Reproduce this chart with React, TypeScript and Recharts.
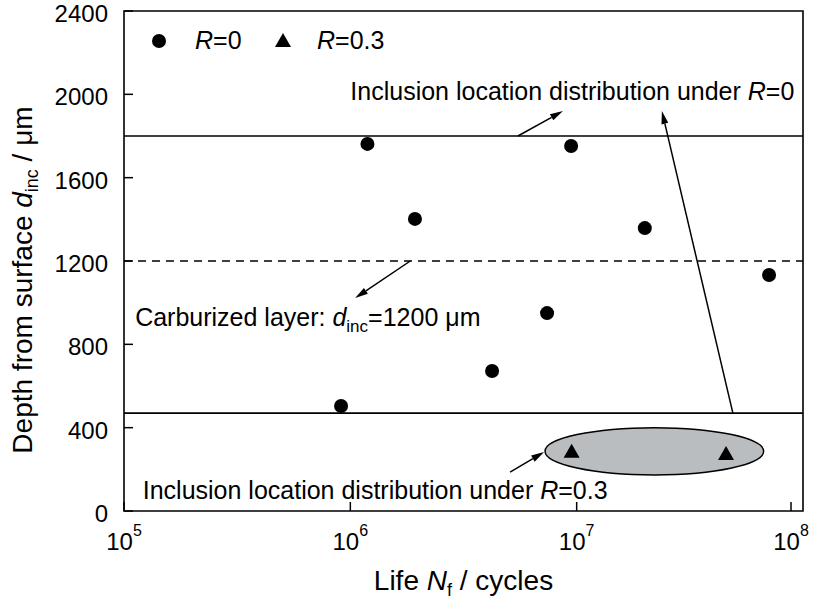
import React from "react";
import {
  ScatterChart,
  Scatter,
  XAxis,
  YAxis,
  ReferenceLine,
  ReferenceArea,
  ReferenceDot,
  Legend,
} from "recharts";

const FONT = "'Liberation Sans', Arial, sans-serif";

// life (cycles) and inclusion depth (um)
const lifeR0 = [9.1e5, 1.19e6, 1.93e6, 4.23e6, 7.4e6, 9.45e6, 2.0e7, 7.08e7];
const depthR0 = [504, 1762, 1402, 672, 950, 1752, 1358, 1133];
const lifeR03 = [9.5e6, 4.57e7];
const depthR03 = [284, 274];

const xTicks = [1e5, 1e6, 1e7, 1e8];
const xTickExp = ["5", "6", "7", "8"];
const yTicks = [0, 400, 800, 1200, 1600, 2000, 2400];

const upperLimitR0 = 1800;
const lowerLimitR0 = 470;
const carburizedDepth = 1200;

// grey ellipse around the R=0.3 points
const ellipseLife = [7.25e6, 6.7e7];
const ellipseDepth = [173, 400];

// annotation arrows: [fromLife, fromDepth, toLife, toDepth]
const arrows = [
  [5.5e6, 1800, 8.7e6, 1920],
  [4.9e7, 470, 2.38e7, 1920],
  [1.84e6, 1200, 1.05e6, 1022],
  [5.08e6, 187, 7.18e6, 283],
];

// annotation text anchors (left/baseline)
const noteR0 = [1.0e6, 1973];
const noteCarb = [1.12e5, 888];
const noteR03 = [1.21e5, 58];

const r0Data = lifeR0.map((life, i) => ({ life, depth: depthR0[i] }));
const r03Data = lifeR03.map((life, i) => ({ life, depth: depthR03[i] }));

const Dot = (p: any) => <circle cx={p.cx} cy={p.cy} r={7} fill="#000" />;
const Tri = (p: any) => (
  <polygon
    points={`${p.cx},${p.cy - 8} ${p.cx - 8},${p.cy + 6} ${p.cx + 8},${p.cy + 6}`}
    fill="#000"
  />
);

const XTick = (p: any) => {
  const i = xTicks.indexOf(p.payload.value);
  return (
    <g>
      <line x1={p.x} y1={p.y} x2={p.x} y2={p.y - 9} stroke="#000" strokeWidth={1.5} />
      <text x={p.x} y={p.y + 39} textAnchor="middle" fontSize={24} fontFamily={FONT} fill="#000">
        10
        <tspan dy={-14} fontSize={16}>
          {xTickExp[i]}
        </tspan>
      </text>
    </g>
  );
};

const YTick = (p: any) => (
  <g>
    <line x1={p.x} y1={p.y} x2={p.x + 9} y2={p.y} stroke="#000" strokeWidth={1.5} />
    <text x={p.x - 16} y={p.y} dy="0.46em" textAnchor="end" fontSize={24} fontFamily={FONT} fill="#000">
      {p.payload.value}
    </text>
  </g>
);

const Arrow = (p: any) => {
  const { x1, y1, x2, y2 } = p;
  const a = Math.atan2(y2 - y1, x2 - x1);
  const len = 13;
  const w = 3.5;
  const bx = x2 - len * Math.cos(a);
  const by = y2 - len * Math.sin(a);
  const nx = -Math.sin(a) * w;
  const ny = Math.cos(a) * w;
  return (
    <g>
      <line x1={x1} y1={y1} x2={bx} y2={by} stroke="#000" strokeWidth={1.5} />
      <polygon points={`${x2},${y2} ${bx + nx},${by + ny} ${bx - nx},${by - ny}`} fill="#000" />
    </g>
  );
};

const LegendBox = () => (
  <svg width={270} height={30} style={{ display: "block" }}>
    <circle cx={14} cy={15} r={7} fill="#000" />
    <text x={50} y={23} fontSize={25} fontFamily={FONT} fill="#000">
      <tspan fontStyle="italic">R</tspan>=0
    </text>
    <polygon points="138,7 130,21 146,21" fill="#000" />
    <text x={172} y={23} fontSize={25} fontFamily={FONT} fill="#000">
      <tspan fontStyle="italic">R</tspan>=0.3
    </text>
  </svg>
);

export default function App() {
  return (
    <div style={{ position: "absolute", left: 0, top: 0, background: "#fff" }}>
      <ScatterChart width={827} height={606} margin={{ top: 11, right: 24, bottom: 35, left: 24 }}>
        <XAxis
          dataKey="life"
          type="number"
          scale="log"
          domain={[1e5, 1e8]}
          ticks={xTicks}
          allowDataOverflow
          axisLine={false}
          tickLine={false}
          tickSize={0}
          tickMargin={0}
          tick={<XTick />}
          height={60}
          label={{
            content: (p: any) => (
              <text
                x={p.viewBox.x + p.viewBox.width / 2}
                y={p.viewBox.y + 79}
                textAnchor="middle"
                fontSize={28}
                fontFamily={FONT}
                fill="#000"
              >
                Life <tspan fontStyle="italic">N</tspan>
                <tspan fontSize={18} dy={6}>f</tspan>
                <tspan dy={-6}> / cycles</tspan>
              </text>
            ),
          }}
        />
        <YAxis
          dataKey="depth"
          type="number"
          domain={[0, 2400]}
          ticks={yTicks}
          allowDataOverflow
          axisLine={false}
          tickLine={false}
          tickSize={0}
          tickMargin={0}
          tick={<YTick />}
          width={100}
          label={{
            content: (p: any) => {
              const cx = p.viewBox.x + 8;
              const cy = p.viewBox.y + p.viewBox.height / 2 + 19;
              return (
                <text
                  x={cx}
                  y={cy}
                  transform={`rotate(-90, ${cx}, ${cy})`}
                  textAnchor="middle"
                  fontSize={28}
                  fontFamily={FONT}
                  fill="#000"
                >
                  Depth from surface <tspan fontStyle="italic">d</tspan>
                  <tspan fontSize={18} dy={6}>inc</tspan>
                  <tspan dy={-6}> / μm</tspan>
                </text>
              );
            },
          }}
        />
        <Legend
          layout="horizontal"
          verticalAlign="middle"
          align="center"
          wrapperStyle={{ left: 145, top: 26, width: 270, height: 30 }}
          content={() => <LegendBox />}
        />
        <ReferenceArea
          x1={ellipseLife[0]}
          x2={ellipseLife[1]}
          y1={ellipseDepth[0]}
          y2={ellipseDepth[1]}
          shape={(p: any) => (
            <ellipse
              cx={p.x + p.width / 2}
              cy={p.y + p.height / 2}
              rx={p.width / 2}
              ry={p.height / 2}
              fill="#babdbf"
              stroke="#000"
              strokeWidth={1.5}
            />
          )}
        />
        <ReferenceLine y={upperLimitR0} stroke="#000" strokeWidth={1.6} />
        <ReferenceLine y={lowerLimitR0} stroke="#000" strokeWidth={1.6} />
        <ReferenceLine y={carburizedDepth} stroke="#000" strokeWidth={1.6} strokeDasharray="8 6" />
        {arrows.map((a, i) => (
          <ReferenceLine
            key={i}
            segment={[
              { x: a[0], y: a[1] },
              { x: a[2], y: a[3] },
            ]}
            shape={<Arrow />}
          />
        ))}
        <ReferenceDot
          x={noteR0[0]}
          y={noteR0[1]}
          shape={(p: any) => (
            <text x={p.cx} y={p.cy} fontSize={25} fontFamily={FONT} fill="#000">
              Inclusion location distribution under <tspan fontStyle="italic">R</tspan>=0
            </text>
          )}
        />
        <ReferenceDot
          x={noteCarb[0]}
          y={noteCarb[1]}
          shape={(p: any) => (
            <text x={p.cx} y={p.cy} fontSize={25} fontFamily={FONT} fill="#000">
              Carburized layer: <tspan fontStyle="italic">d</tspan>
              <tspan fontSize={17} dy={6}>inc</tspan>
              <tspan dy={-6}>=1200 μm</tspan>
            </text>
          )}
        />
        <ReferenceDot
          x={noteR03[0]}
          y={noteR03[1]}
          shape={(p: any) => (
            <text x={p.cx} y={p.cy} fontSize={25} fontFamily={FONT} fill="#000">
              Inclusion location distribution under <tspan fontStyle="italic">R</tspan>=0.3
            </text>
          )}
        />
        <ReferenceArea
          x1={1e5}
          x2={1e8}
          y1={0}
          y2={2400}
          fill="none"
          stroke="#000"
          strokeWidth={1.6}
        />
        <Scatter name="R=0" data={r0Data} shape={Dot} isAnimationActive={false} />
        <Scatter name="R=0.3" data={r03Data} shape={Tri} isAnimationActive={false} />
      </ScatterChart>
    </div>
  );
}
